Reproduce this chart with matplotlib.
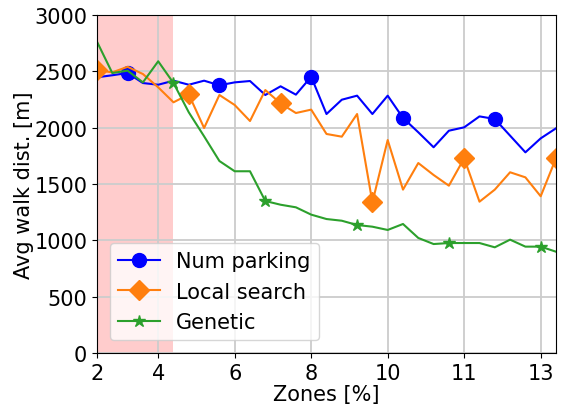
import matplotlib
matplotlib.use('Agg')
import matplotlib.pyplot as plt
import numpy as np

plt.rcParams.update({'font.size': 15})

# x tick labels (zones %)
tick_pos = [0, 4, 9, 14, 19, 24, 29]
tick_label = ['2', '4', '6', '8', '10', '11', '13']

num_parking = [2447, 2465, 2485, 2396, 2381, 2417, 2381, 2417, 2376, 2402,
               2414, 2290, 2367, 2293, 2452, 2121, 2248, 2284, 2121, 2284,
               2086, 1959, 1826, 1973, 2003, 2100, 2077, 1929, 1781, 1905, 1994]
local_search = [2510, 2491, 2540, 2476, 2358, 2225, 2295, 1997, 2290, 2201,
                2059, 2334, 2215, 2130, 2160, 1944, 1920, 2121, 1337, 1890,
                1450, 1686, 1580, 1485, 1728, 1343, 1450, 1604, 1559, 1391, 1728]
genetic = [2763, 2485, 2506, 2402, 2589, 2396, 2136, 1923, 1704, 1613,
           1613, 1349, 1316, 1293, 1228, 1189, 1174, 1136, 1121, 1092,
           1145, 1021, 967, 976, 976, 976, 938, 1006, 944, 944, 899]

x = np.arange(len(num_parking))

fig = plt.figure(figsize=(5.62, 4.10), dpi=100)
ax = fig.add_axes([0.1726, 0.1366, 0.8167, 0.8244])

ax.axvspan(0, 5, color='red', alpha=0.2, lw=0)

ax.plot(x, num_parking, color='blue', marker='o', markersize=10, lw=1.5,
        markevery=(2, 6), label='Num parking')
ax.plot(x, local_search, color='tab:orange', marker='D', markersize=10, lw=1.5,
        markevery=(0, 6), label='Local search')
ax.plot(x, genetic, color='tab:green', marker='*', markersize=9, lw=1.5,
        markevery=(5, 6), label='Genetic')

ax.set_xlim(0, 30)
ax.set_ylim(0, 3000)
ax.set_xticks(tick_pos)
ax.set_xticklabels(tick_label)
ax.set_yticks(np.arange(0, 3001, 500))
ax.grid(True, color='#cccccc', lw=1.3)
ax.set_xlabel('Zones [%]', labelpad=1)
ax.set_ylabel('Avg walk dist. [m]', labelpad=0)
ax.legend(loc='lower left', borderaxespad=0.6)

fig.savefig('out.png', dpi=100)
